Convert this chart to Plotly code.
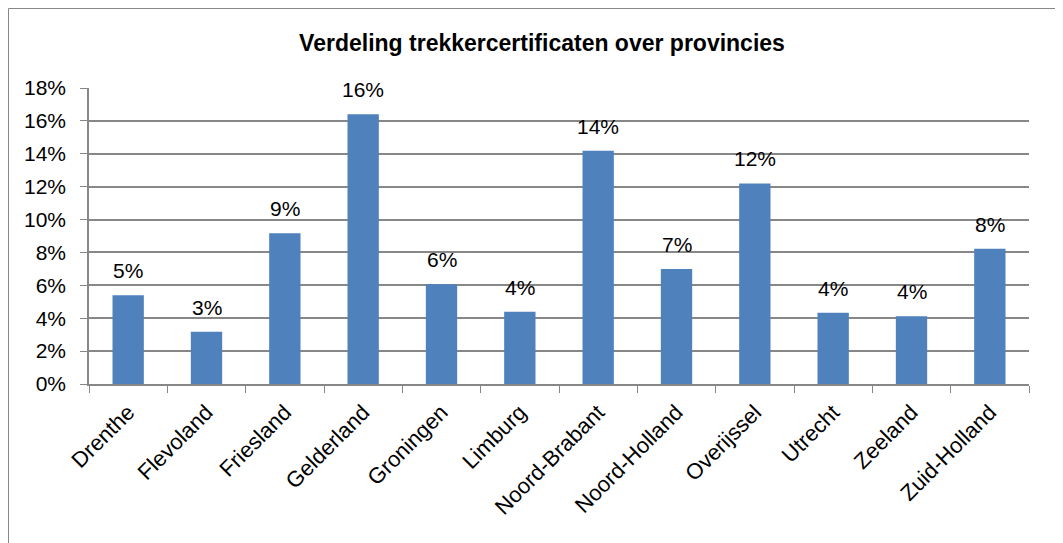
import plotly.graph_objects as go

provinces = ["Drenthe", "Flevoland", "Friesland", "Gelderland", "Groningen", "Limburg",
             "Noord-Brabant", "Noord-Holland", "Overijssel", "Utrecht", "Zeeland", "Zuid-Holland"]
shares = [0.0539, 0.0318, 0.0917, 0.164, 0.0606, 0.044,
          0.1419, 0.070, 0.122, 0.0434, 0.0412, 0.0823]
y_ticks = [0, 0.02, 0.04, 0.06, 0.08, 0.10, 0.12, 0.14, 0.16, 0.18]
title_text = "Verdeling trekkercertificaten over provincies"

FONT = "Liberation Sans, Arial, sans-serif"
GRID = "#878787"
OFF = 8  # page body margin offset

fig = go.Figure()
fig.add_trace(go.Bar(
    x=provinces, y=shares,
    marker=dict(color="#4F81BD", line=dict(color="#4F81BD", width=0)),
    hoverinfo="x+y",
))

for p, v in zip(provinces, shares):
    fig.add_annotation(x=p, y=v, text=f"{v*100:.0f}%", showarrow=False,
                       yanchor="bottom", yshift=11,
                       font=dict(family=FONT, size=21, color="#000000"))

pw = 940
ph = 296
l_m = 89 - OFF
t_m = 88 - OFF
fig.add_shape(type="rect", xref="paper", yref="paper",
              x0=(0.5 - l_m) / pw, y0=-0.7, x1=1.2, y1=(ph + t_m - 0.5) / ph,
              line=dict(color="#888888", width=1), layer="below")

fig.update_layout(
    width=1063, height=543,
    margin=dict(l=l_m, r=1063 - 1029 + OFF, t=t_m, b=543 - 384 + OFF),
    paper_bgcolor="white", plot_bgcolor="white",
    showlegend=False,
    bargap=0.6,
    font=dict(family=FONT, size=21, color="#000000"),
    title=dict(text=f"<b>{title_text}</b>", x=(542 - 89) / pw, xref="paper", xanchor="center",
               y=1 - (43 - OFF) / 543, yanchor="middle",
               font=dict(family=FONT, size=23, color="#000000")),
    xaxis=dict(
        tickangle=-45, tickson="boundaries", ticks="outside", ticklen=7,
        tickcolor=GRID, showline=True, linecolor=GRID, linewidth=1.5,
        showgrid=False, ticklabelstandoff=5,
        tickfont=dict(family=FONT, size=22, color="#000000"),
    ),
    yaxis=dict(
        range=[0, 0.18], tickvals=y_ticks, tickformat=".0%",
        ticks="outside", ticklen=7, tickcolor=GRID,
        showline=True, linecolor=GRID, linewidth=1.5,
        showgrid=True, gridcolor=GRID, gridwidth=1.5,
        zeroline=False, ticklabelstandoff=10,
        tickfont=dict(family=FONT, size=21, color="#000000"),
    ),
)

fig.write_html("out.html")
